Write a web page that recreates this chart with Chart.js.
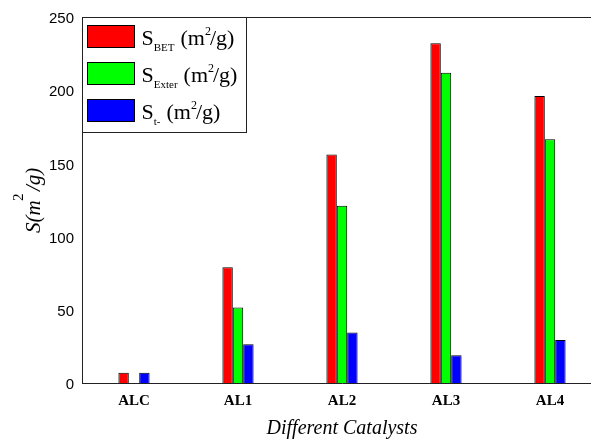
<!DOCTYPE html>
<html>
<head>
<meta charset="utf-8">
<script src="https://cdn.jsdelivr.net/npm/chart.js@4/dist/chart.umd.min.js"></script>
<style>
  html, body { margin: 0; padding: 0; background: #fff; overflow: hidden; }
  #wrap { width: 620px; height: 439px; }
</style>
</head>
<body>
<div id="wrap"><canvas id="c" width="620" height="439"></canvas></div>
<script>
// Catalysts on the x axis
const categories = ['ALC', 'AL1', 'AL2', 'AL3', 'AL4'];
// Surface areas, m²/g
const sBET   = [7, 79, 156, 232, 196];
const sExter = [null, 51.5, 121, 212, 166.5];
const sT     = [7, 26.5, 34.5, 19, 29.3];
// Legend subscripts for each series
const seriesSubs = ['BET', 'Exter', 't-'];
const seriesColors = ['#ff0000', '#00ff00', '#0000ff'];
const yTicks = [0, 50, 100, 150, 200, 250];

const SERIF = '"Liberation Serif", "Times New Roman", serif';
const SANS = '"Liberation Sans", Arial, sans-serif';

// Frame, legend and axis titles drawn on top of the chart
const decorations = {
  id: 'decorations',
  afterDraw(chart) {
    const ctx = chart.ctx;
    const a = chart.chartArea;
    ctx.save();
    // top frame line
    ctx.strokeStyle = '#222';
    ctx.lineWidth = 1;
    ctx.beginPath();
    ctx.moveTo(a.left, a.top + 0.5);
    ctx.lineTo(a.right, a.top + 0.5);
    ctx.stroke();

    // legend box
    const lx = a.left + 0.5, ly = a.top + 0.5, lw = 164, lh = 115;
    ctx.fillStyle = '#fff';
    ctx.fillRect(lx, ly, lw, lh);
    ctx.strokeStyle = '#222';
    ctx.strokeRect(lx, ly, lw, lh);
    chart.data.datasets.forEach((ds, i) => {
      const rowTop = ly + 8 + i * 37;
      ctx.fillStyle = ds.backgroundColor;
      ctx.fillRect(lx + 5, rowTop, 47, 22);
      ctx.strokeStyle = '#000';
      ctx.strokeRect(lx + 5, rowTop, 47, 22);
      const base = rowTop + 19;
      let x = lx + 59;
      ctx.fillStyle = '#000';
      ctx.textBaseline = 'alphabetic';
      ctx.textAlign = 'left';
      ctx.font = '22px ' + SERIF;
      ctx.fillText('S', x, base);
      x += ctx.measureText('S').width;
      ctx.font = '11px ' + SERIF;
      ctx.fillText(seriesSubs[i], x, base + 6);
      x += ctx.measureText(seriesSubs[i]).width + 6;
      ctx.font = '22px ' + SERIF;
      ctx.fillText('(m', x, base);
      x += ctx.measureText('(m').width;
      ctx.font = '12px ' + SERIF;
      ctx.fillText('2', x, base - 10);
      x += ctx.measureText('2').width - 1;
      ctx.font = '22px ' + SERIF;
      ctx.fillText('/g)', x, base);
    });

    // y-axis title, rotated
    ctx.save();
    ctx.translate(40, 233);
    ctx.rotate(-Math.PI / 2);
    ctx.fillStyle = '#000';
    ctx.textAlign = 'left';
    ctx.textBaseline = 'alphabetic';
    ctx.font = 'italic 21px ' + SERIF;
    ctx.fillText('S(m', 0, 0);
    ctx.font = '15px ' + SERIF;
    ctx.fillText('2', 32, -17);
    ctx.font = 'italic 21px ' + SERIF;
    ctx.fillText('/g)', 42, 0);
    ctx.restore();

    // x-axis title
    ctx.fillStyle = '#000';
    ctx.textAlign = 'center';
    ctx.textBaseline = 'alphabetic';
    ctx.font = 'italic 20px ' + SERIF;
    ctx.fillText('Different Catalysts', (a.left + a.right) / 2, 434);
    ctx.restore();
  }
};

const mk = (label, data, i) => ({
  label,
  data,
  backgroundColor: seriesColors[i],
  borderColor: '#000',
  borderWidth: 1,
  categoryPercentage: 0.3,
  barPercentage: 1.0
});

new Chart(document.getElementById('c'), {
  type: 'bar',
  data: {
    labels: categories,
    datasets: [
      mk('S_BET (m²/g)', sBET, 0),
      mk('S_Exter (m²/g)', sExter, 1),
      mk('S_t- (m²/g)', sT, 2)
    ]
  },
  options: {
    responsive: false,
    animation: false,
    layout: { padding: { top: 15, right: 18, left: 0, bottom: 0 } },
    plugins: { legend: { display: false }, tooltip: { enabled: false } },
    scales: {
      x: {
        grid: { display: false, drawTicks: false },
        border: { display: true, color: '#222', width: 1 },
        ticks: {
          color: '#000',
          font: { family: SERIF, size: 15, weight: 'bold' },
          padding: 9
        },
        afterFit(s) { s.height = 56; }
      },
      y: {
        min: 0,
        max: 250,
        grid: { display: false, drawTicks: false },
        border: { display: true, color: '#222', width: 1 },
        afterBuildTicks(s) { s.ticks = yTicks.map(v => ({ value: v })); },
        ticks: {
          color: '#000',
          font: { family: SANS, size: 15 },
          padding: 8,
          labelOffset: 2
        },
        afterFit(s) { s.width = 82; }
      }
    }
  },
  plugins: [decorations]
});
</script>
</body>
</html>
